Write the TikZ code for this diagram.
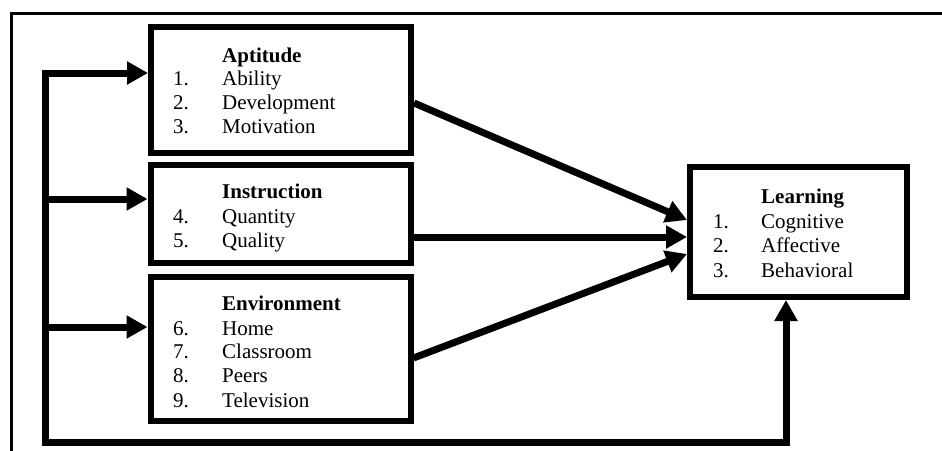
\documentclass[tikz,border=0pt]{standalone}
\usepackage{fontspec}
\setmainfont{Liberation Serif}
\usetikzlibrary{arrows.meta}
\begin{document}
\begin{tikzpicture}[x=1pt,y=-1pt,
  box/.style={draw,line width=6pt,inner sep=0pt},
  arr/.style={line width=7pt,line join=miter,-{Triangle[length=21pt,width=22pt]}},
  arrboth/.style={line width=7pt,line join=miter,{Triangle[length=21pt,width=22pt]}-{Triangle[length=21pt,width=22pt]}},
  frame/.style={line width=3pt},
  txt/.style={anchor=base west,inner sep=0pt,font=\fontsize{21pt}{24pt}\selectfont},
  ttl/.style={anchor=base west,inner sep=0pt,font=\fontsize{21pt}{24pt}\selectfont\bfseries}]
\useasboundingbox (0,0) rectangle (942,450);
\fill[white] (0,0) rectangle (942,450);
% outer frame (open at right and bottom)
\draw[frame] (11.5,452) -- (11.5,13) -- (944,13);
% boxes
\node[box,minimum width=260pt,minimum height=126pt] (apt) at (281,90) {};
\node[box,minimum width=260pt,minimum height=98pt] (ins) at (280.5,214) {};
\node[box,minimum width=260pt,minimum height=144pt] (env) at (280.5,349) {};
\node[box,minimum width=217pt,minimum height=130pt] (lrn) at (798.5,232) {};
% Aptitude text
\node[ttl] (aptT) at (222,62) {Aptitude};
\node[txt] (apt1n) at (173,85) {1.};  \node[txt] (apt1) at (222,85) {Ability};
\node[txt] (apt2n) at (173,109) {2.}; \node[txt] (apt2) at (222,109) {Development};
\node[txt] (apt3n) at (173,133) {3.}; \node[txt] (apt3) at (222,133) {Motivation};
% Instruction text
\node[ttl] (insT) at (222,198) {Instruction};
\node[txt] (ins4n) at (173,223) {4.}; \node[txt] (ins4) at (222,223) {Quantity};
\node[txt] (ins5n) at (173,247) {5.}; \node[txt] (ins5) at (222,247) {Quality};
% Environment text
\node[ttl] (envT) at (222,310) {Environment};
\node[txt] (env6n) at (173,335) {6.}; \node[txt] (env6) at (222,335) {Home};
\node[txt] (env7n) at (173,358) {7.}; \node[txt] (env7) at (222,358) {Classroom};
\node[txt] (env8n) at (173,382) {8.}; \node[txt] (env8) at (222,382) {Peers};
\node[txt] (env9n) at (173,407) {9.}; \node[txt] (env9) at (222,407) {Television};
% Learning text
\node[ttl] (lrnT) at (761,203) {Learning};
\node[txt] (lrn1n) at (713,228) {1.}; \node[txt] (lrn1) at (761,228) {Cognitive};
\node[txt] (lrn2n) at (713,252) {2.}; \node[txt] (lrn2) at (761,252) {Affective};
\node[txt] (lrn3n) at (713,277) {3.}; \node[txt] (lrn3) at (761,277) {Behavioral};
% feedback loop
\coordinate (fbtop) at (45,73);
\coordinate (fbI) at (45,199);
\coordinate (fbE) at (45,327);
\coordinate (fbbot) at (45,442);
\coordinate (fbright) at (786,442);
\draw[arrboth] (fbtop -| apt.west) -- (fbtop) -- (fbbot) -- (fbright) -- (fbright |- lrn.south);
\draw[arr] (fbI) -- (fbI -| ins.west);
\draw[arr] (fbE) -- (fbE -| env.west);
% arrows to Learning
\draw[arr] ([yshift=-13pt]apt.east) -- ([yshift=12pt]lrn.west);
\draw[arr] ([yshift=-23pt]ins.east) -- ([yshift=-5pt]lrn.west);
\draw[arr] ([yshift=-9pt]env.east) -- ([yshift=-22pt]lrn.west);
\end{tikzpicture}
\end{document}
